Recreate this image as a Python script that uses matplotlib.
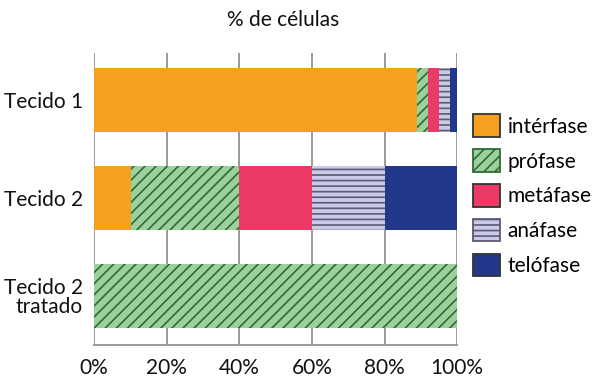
import matplotlib
matplotlib.use("Agg")
import matplotlib.pyplot as plt
from matplotlib.patches import Patch

plt.rcParams['font.family'] = ['Lato', 'DejaVu Sans']
plt.rcParams['hatch.linewidth'] = 1.2

# data
tecidos = ['Tecido 1', 'Tecido 2', 'Tecido 2\ntratado']
fases = ['intérfase', 'prófase', 'metáfase', 'anáfase', 'telófase']
interfase = [89, 10, 0]
profase = [3, 30, 100]
metafase = [3, 20, 0]
anafase = [3, 20, 0]
telofase = [2, 20, 0]
valores = [interfase, profase, metafase, anafase, telofase]
ticks = [0, 20, 40, 60, 80, 100]

# styles: face, hatch, hatch colour
cores = ['#F6A01F', '#9CD09D', '#EC3A66', '#CACAE8', '#22388A']
hatches = [None, '///', None, '---', None]
hcores = ['#F6A01F', '#2F6B34', '#EC3A66', '#5B5B75', '#22388A']

fig = plt.figure(figsize=(6, 3.9), dpi=100)
ax = fig.add_axes([0.157, 0.115, 0.605, 0.749])

ypos = list(range(len(tecidos)))
esq = [0] * len(tecidos)
for vals, c, h, hc in zip(valores, cores, hatches, hcores):
    ax.barh(ypos, vals, left=esq, height=0.65, color=c, hatch=h,
            edgecolor=hc, linewidth=0, zorder=3)
    esq = [a + b for a, b in zip(esq, vals)]

ax.set_xlim(0, 100)
ax.set_ylim(2.5, -0.48)
ax.set_xticks(ticks)
ax.set_xticklabels([f'{t}%' for t in ticks])
ax.set_yticks(ypos)
ax.set_yticklabels(tecidos, linespacing=0.9)
ax.tick_params(length=0, labelsize=15, colors='#111111')
ax.tick_params(axis='x', pad=9)
ax.tick_params(axis='y', pad=8)
ax.grid(axis='x', color='#9a9a9a', linewidth=1.4, zorder=0)
for s in ['top', 'right', 'left']:
    ax.spines[s].set_visible(False)
ax.spines['bottom'].set_color('#9a9a9a')
ax.spines['bottom'].set_linewidth(1.4)

fig.text(0.472, 0.949, '% de células', ha='center', va='center',
         fontsize=15, color='#111111')

handles = []
for c, h, hc in zip(cores, hatches, hcores):
    ec = hc if h else '#333333'
    handles.append(Patch(facecolor=c, hatch=h, edgecolor=ec, linewidth=1.3))
fig.legend(handles, fases, loc='upper left', bbox_to_anchor=(0.775, 0.728),
           frameon=False, fontsize=15, handlelength=1.3, handleheight=1.3,
           labelspacing=0.58, handletextpad=0.35, borderaxespad=0)

fig.savefig('out.png', dpi=100)
